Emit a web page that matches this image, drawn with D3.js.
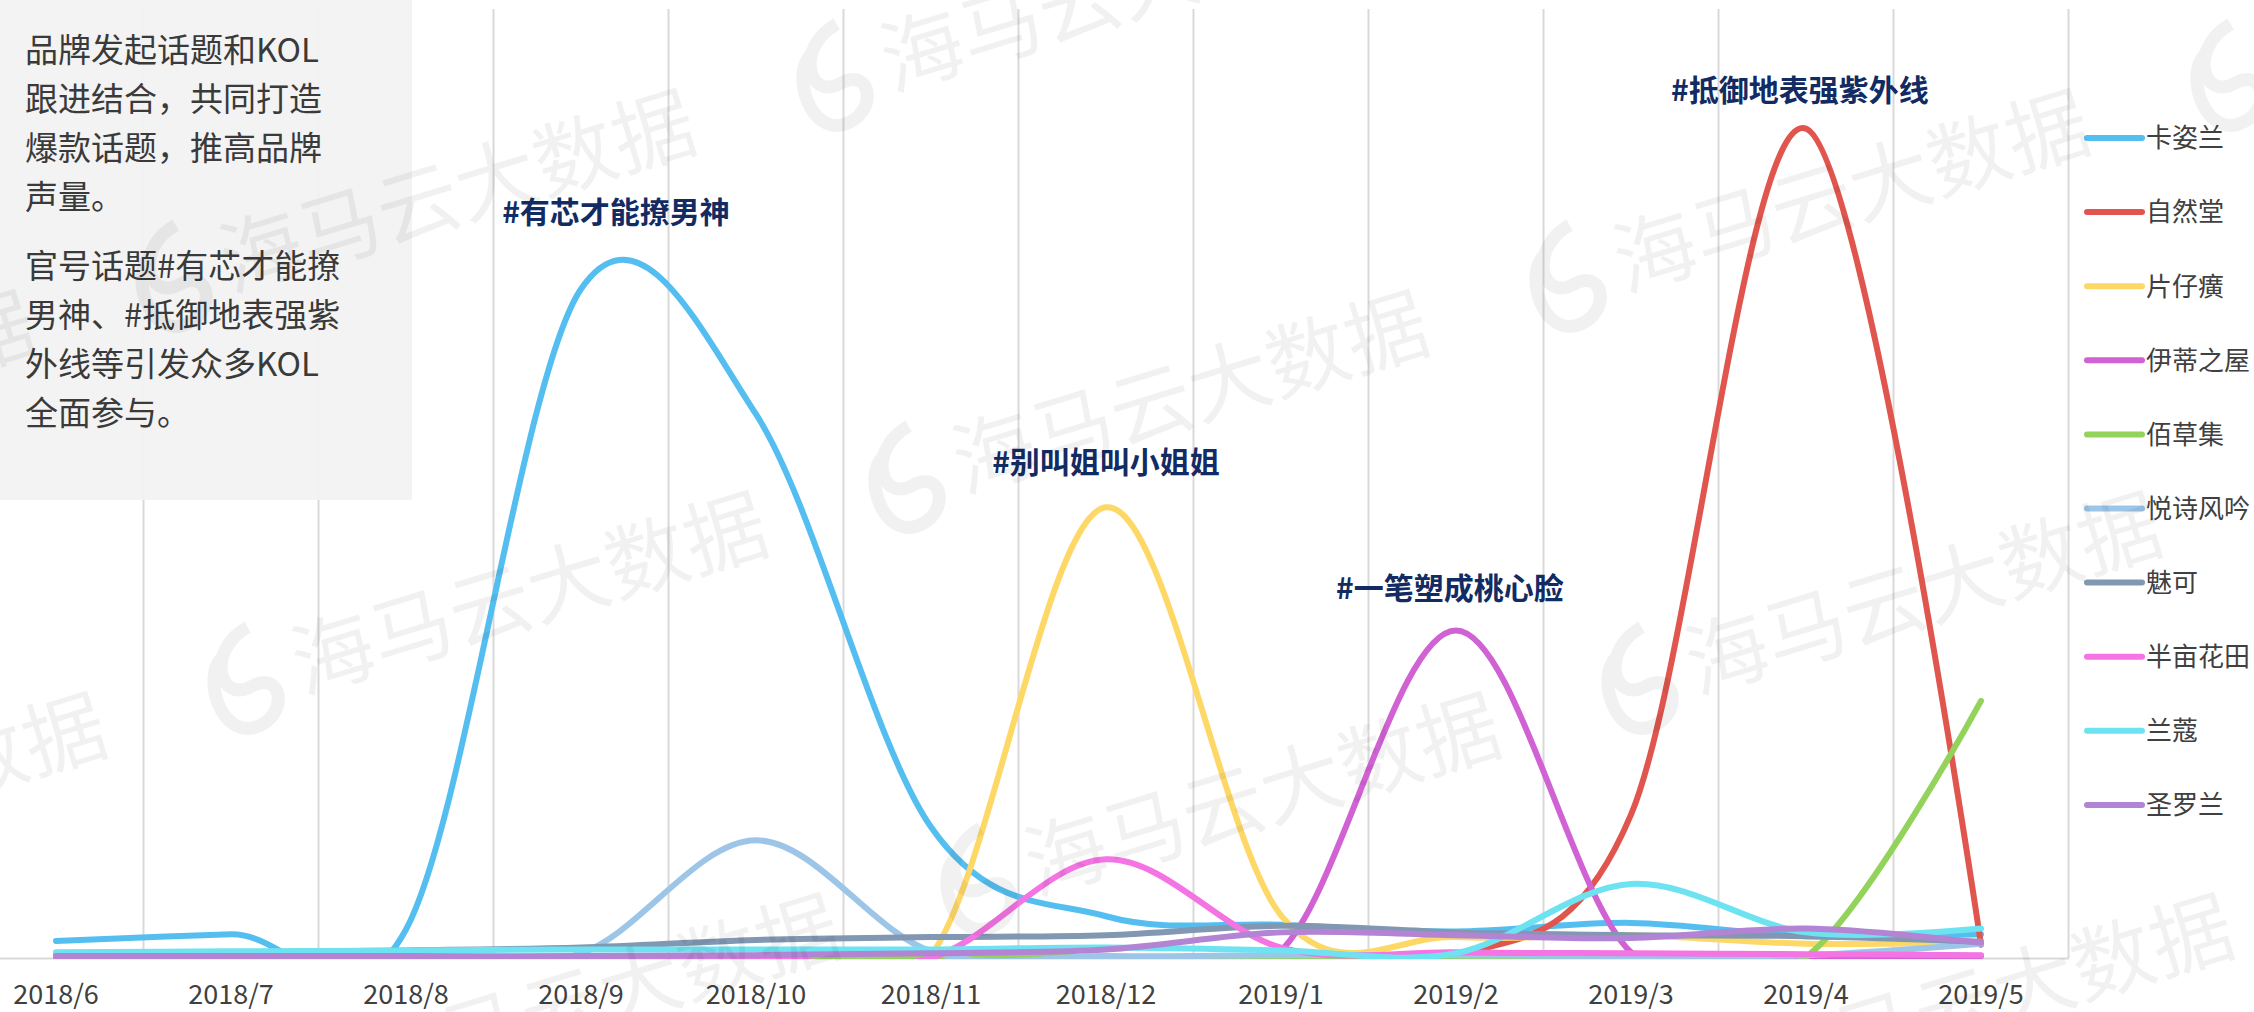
<!DOCTYPE html>
<html>
<head>
<meta charset="utf-8">
<script src="https://cdn.jsdelivr.net/npm/d3@7"></script>
<style>
  html, body { margin: 0; padding: 0; background: #fff; }
  svg { display: block; }
</style>
</head>
<body>
<div id="chart"></div>
<script>
// months on the category axis
var months = ["2018/6", "2018/7", "2018/8", "2018/9", "2018/10", "2018/11",
              "2018/12", "2019/1", "2019/2", "2019/3", "2019/4", "2019/5"];

var brands = ["卡姿兰", "自然堂", "片仔癀", "伊蒂之屋", "佰草集",
              "悦诗风吟", "魅可", "半亩花田", "兰蔻", "圣罗兰"];

// monthly voice index per brand
var kaZiLan       = [1.8, 2.5, 3.0, 70.5, 57.3, 13.8, 4.4, 3.5, 2.8, 3.7, 2.3, 2.5];
var ziRanTang     = [0.1, 0.1, 0.1, 0.1, 0.1, 0.1, 0.1, 0.1, 0.1, 15.1, 87.4, 1.4];
var pianZaiHuang  = [0.1, 0.1, 0.1, 0.1, 0.1, 0.3, 47.5, 4.5, 2.2, 2.4, 1.5, 1.7];
var yiDiZhiWu     = [0.1, 0.1, 0.1, 0.1, 0.1, 0.1, 0.1, 0.8, 34.5, 0.6, 0.1, 0.2];
var baiCaoJi      = [0.1, 0.1, 0.1, 0.1, 0.1, 0.1, 0.1, 0.1, 0.1, 0.1, 0.1, 27.1];
var yueShiFengYin = [0.1, 0.1, 0.1, 0.5, 12.4, 0.7, 0.2, 0.3, 0.3, 0.2, 0.3, 1.5];
var meiKe         = [0.5, 0.6, 0.8, 1.1, 1.9, 2.2, 2.4, 3.4, 2.7, 2.4, 2.3, 1.7];
var banMuHuaTian  = [0.0, 0.0, 0.0, 0.0, 0.0, 0.0, 10.4, 1.1, 0.6, 0.5, 0.4, 0.3];
var lanKou        = [0.6, 0.7, 0.8, 0.9, 0.9, 0.9, 1.1, 0.8, 0.5, 7.8, 2.7, 3.1];
var shengLuoLan   = [0.2, 0.2, 0.2, 0.2, 0.3, 0.5, 0.9, 2.7, 2.4, 2.1, 3.1, 1.6];

var series = [kaZiLan, ziRanTang, pianZaiHuang, yiDiZhiWu, baiCaoJi,
              yueShiFengYin, meiKe, banMuHuaTian, lanKou, shengLuoLan];

// topic callouts: text, month it belongs to, and the value it sits at
var topics = ["#有芯才能撩男神", "#别叫姐叫小姐姐", "#一笔塑成桃心脸", "#抵御地表强紫外线"];
var topicMonths = ["2018/9", "2018/12", "2019/2", "2019/4"];
var topicValues = [78.6, 52.3, 39.0, 91.5];
// fraction of a month the label is shifted (first peak falls between months)
var topicShift = [0.2, 0, -0.035, -0.035];

var noteLines1 = ["品牌发起话题和KOL", "跟进结合，共同打造", "爆款话题，推高品牌", "声量。"];
var noteLines2 = ["官号话题#有芯才能撩", "男神、#抵御地表强紫", "外线等引发众多KOL", "全面参与。"];

var colors = ["#55bef0", "#e0564e", "#fed867", "#d062d4", "#93d35b",
              "#9dc5e8", "#8297b1", "#f374e2", "#6de3f2", "#b384d3"];

function init(){
    var w = 2254;
    var h = 1012;
    var baseY = 958;
    var topY = 9;
    var cjk = "'Noto Sans CJK SC', 'Noto Sans', sans-serif";

    var svg = d3.select("#chart")
                .append("svg")
                .attr("width", w)
                .attr("height", h);

    // band per month, plot is cropped on the left like the original
    var xScale = d3.scaleBand()
                    .domain(months)
                    .range([-31.5, 2068.5])
                    .paddingInner(0);

    var yScale = d3.scaleLinear()
                    .domain([0, 100])
                    .range([baseY, topY]);

    function cx(m){ return xScale(m) + xScale.bandwidth() / 2; }

    // vertical gridlines on band edges
    var edges = months.slice(1).map(function(m){ return xScale(m); });
    edges.push(xScale(months[months.length - 1]) + xScale.bandwidth());
    svg.append("g")
        .selectAll("line")
        .data(edges)
        .enter()
        .append("line")
        .attr("x1", function(d){ return d; })
        .attr("x2", function(d){ return d; })
        .attr("y1", topY)
        .attr("y2", baseY)
        .attr("stroke", "#d9d9d9")
        .attr("stroke-width", 2);

    // category axis
    var xAxis = d3.axisBottom(xScale).tickSize(0).tickPadding(0);
    var gx = svg.append("g")
        .attr("transform", "translate(0," + baseY + ")")
        .call(xAxis);
    gx.select(".domain").attr("stroke", "#d9d9d9").attr("stroke-width", 2);
    gx.selectAll("text")
        .attr("y", 37)
        .attr("dy", "0.35em")
        .attr("fill", "#404040")
        .style("font-family", cjk)
        .style("font-size", "27px");

    // clip lines at the plot area like the spreadsheet does
    svg.append("clipPath")
        .attr("id", "plotClip")
        .append("rect")
        .attr("x", -40)
        .attr("y", 0)
        .attr("width", 2110)
        .attr("height", baseY + 1);

    var line = d3.line()
                .x(function(d, i){ return cx(months[i]); })
                .y(function(d){ return yScale(d); })
                .curve(d3.curveCardinal.tension(0));

    svg.append("g")
        .attr("clip-path", "url(#plotClip)")
        .selectAll("path")
        .data(series)
        .enter()
        .append("path")
        .attr("d", line)
        .attr("fill", "none")
        .attr("stroke", function(d, i){ return colors[i]; })
        .attr("stroke-width", 6)
        .attr("stroke-linecap", "round")
        .attr("stroke-linejoin", "round");

    // topic labels above the peaks
    svg.append("g")
        .selectAll("text")
        .data(topics)
        .enter()
        .append("text")
        .text(function(d){ return d; })
        .attr("text-anchor", "middle")
        .attr("x", function(d, i){ return cx(topicMonths[i]) + topicShift[i] * xScale.bandwidth(); })
        .attr("y", function(d, i){ return yScale(topicValues[i]) + 11; })
        .attr("fill", "#122b63")
        .style("font-family", cjk)
        .style("font-weight", "bold")
        .style("font-size", "30px");

    // legend on the right
    var legend = svg.append("g")
        .selectAll("g")
        .data(brands)
        .enter()
        .append("g")
        .attr("transform", function(d, i){ return "translate(2087," + (138 + i * 74.1) + ")"; });
    legend.append("line")
        .attr("x1", 0).attr("x2", 55)
        .attr("stroke", function(d, i){ return colors[i]; })
        .attr("stroke-width", 6)
        .attr("stroke-linecap", "round");
    legend.append("text")
        .text(function(d){ return d; })
        .attr("x", 59)
        .attr("dy", "0.36em")
        .attr("fill", "#404040")
        .style("font-family", cjk)
        .style("font-size", "26px");

    // note box top left
    svg.append("rect")
        .attr("x", 0).attr("y", 0)
        .attr("width", 412).attr("height", 500)
        .attr("fill", "#f2f2f2")
        .attr("fill-opacity", 0.93);

    var note = svg.append("g")
        .attr("fill", "#3a3a3a")
        .style("font-family", cjk)
        .style("font-size", "33px");
    note.selectAll("text.p1")
        .data(noteLines1)
        .enter()
        .append("text")
        .attr("class", "p1")
        .text(function(d){ return d; })
        .attr("x", 25)
        .attr("y", function(d, i){ return 50 + i * 49 + 12; });
    note.selectAll("text.p2")
        .data(noteLines2)
        .enter()
        .append("text")
        .attr("class", "p2")
        .text(function(d){ return d; })
        .attr("x", 25)
        .attr("y", function(d, i){ return 266 + i * 49 + 12; });

    // faint watermark tiles
    var wm = svg.append("g").attr("fill", "#000").attr("fill-opacity", 0.055);
    for (var i = -2; i <= 4; i++) {
        for (var j = -2; j <= 3; j++) {
            var px = 250 + i * 661 + j * 72;
            var py = 710 - i * 201 + j * 402;
            if (px < -700 || px > 2300 || py < -200 || py > 1150) continue;
            var t = wm.append("g")
                .attr("transform", "translate(" + px + "," + py + ") rotate(-17)");
            t.append("path")
                .attr("d", "M22,-80 C-25,-70 -28,-15 8,-22 C44,-30 36,18 0,18 C-36,18 -36,-45 -12,-58")
                .attr("fill", "none")
                .attr("stroke", "#000")
                .attr("stroke-opacity", 0.055)
                .attr("stroke-width", 13);
            t.append("text")
                .text("海马云大数据")
                .attr("x", 55)
                .attr("y", 0)
                .style("font-family", cjk)
                .style("font-size", "82px");
        }
    }
}

window.onload = init;
</script>
</body>
</html>
